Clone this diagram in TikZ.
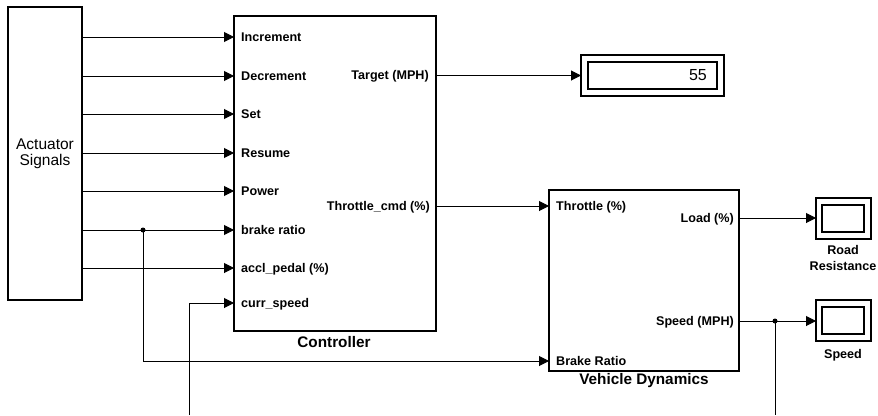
\documentclass[tikz,border=0pt]{standalone}
\usepackage{fontspec}
\setmainfont{Liberation Sans}
\usepackage{tikz}
\usetikzlibrary{arrows,arrows.meta,positioning,calc}
\tikzstyle{block}=[draw,line width=1.6pt,rectangle,inner sep=0pt,outer sep=0pt,anchor=north west]
\tikzstyle{portlabel}=[font=\fontsize{12.6}{14}\selectfont\bfseries,inner sep=0pt,text height=9pt,text depth=0pt]
\tikzstyle{blocklabel}=[font=\fontsize{15.3}{17}\selectfont\bfseries,inner sep=0pt]
\tikzstyle{signal}=[line width=1pt,-{Triangle[length=10pt,width=10pt]}]
\tikzstyle{wire}=[line width=1pt]
\tikzstyle{branch}=[fill,circle,inner sep=0pt,minimum size=5pt]

\begin{document}
\begin{tikzpicture}[x=1pt,y=-1pt]
\useasboundingbox (0,0) rectangle (878,415);

% blocks
\node [block, minimum width=74pt, minimum height=293pt] (act) at (8,7) {};
\node [font=\fontsize{15.5}{16}\selectfont, align=center] (actname) at (act.center) {Actuator\\Signals};
\node [block, minimum width=202pt, minimum height=315pt] (ctrl) at (234,16) {};
\node [blocklabel] (ctrlname) at (334,342) {Controller};
\node [block, minimum width=190pt, minimum height=181pt] (vd) at (549,190) {};
\node [blocklabel] (vdname) at (644,381) {Vehicle Dynamics};

% display
\node [block, minimum width=143pt, minimum height=41pt] (disp) at (581,55) {};
\node [block, minimum width=129pt, minimum height=27pt] (dispin) at (588,62) {};
\node [font=\fontsize{16}{18}\selectfont, inner sep=0pt, anchor=east] (dispval) at (707,75) {55};

% scopes
\node [block, minimum width=55pt, minimum height=41pt] (roadscope) at (816,198) {};
\node [block, minimum width=42pt, minimum height=27pt] (roadscopein) at (822,205) {};
\node [font=\fontsize{12.6}{16}\selectfont\bfseries, align=center] (roadname) at (843,258) {Road\\Resistance};
\node [block, minimum width=55pt, minimum height=41pt] (speedscope) at (816,300) {};
\node [block, minimum width=42pt, minimum height=27pt] (speedscopein) at (822,307) {};
\node [portlabel] (speedname) at (843,354) {Speed};

% controller ports
\foreach \y/\name [count=\i] in {37/Increment, 76/Decrement, 114/Set, 153/Resume, 191/Power, 230/brake ratio, 268/accl\_pedal (\%)}{
  \node [portlabel, anchor=west] (ctrlin\i) at (241,\y) {\name};
  \draw [signal] (act.east |- ctrlin\i) -- (ctrl.west |- ctrlin\i);
}
\node [portlabel, anchor=west] (ctrlin8) at (241,303) {curr\_speed};
\node [portlabel, anchor=east] (target) at (429,75) {Target (MPH)};
\node [portlabel, anchor=east] (thrcmd) at (430,206) {Throttle\_cmd (\%)};

% vehicle dynamics ports
\node [portlabel, anchor=west] (vdthr) at (556,206) {Throttle (\%)};
\node [portlabel, anchor=west] (vdbrake) at (556,361) {Brake Ratio};
\node [portlabel, anchor=east] (vdload) at (734,218) {Load (\%)};
\node [portlabel, anchor=east] (vdspeed) at (734,321) {Speed (MPH)};

% signals
\draw [signal] (ctrl.east |- disp) -- (disp.west);
\draw [signal] (ctrl.east |- vdthr) -- (vd.west |- vdthr);
\draw [signal] (vd.east |- vdload) -- (roadscope.west |- vdload);
\draw [signal] (vd.east |- vdspeed) -- (speedscope.west |- vdspeed);

% brake ratio branch
\node [branch] (brk) at (143,230) {};
\coordinate (brkdown) at (143,361);
\draw [signal] (brk.center) -- (brkdown) -- (vd.west |- vdbrake);

% speed feedback
\node [branch] (spd) at (775,321) {};
\coordinate (spdend) at (775,415);
\coordinate (fbend) at (189,415);
\draw [wire] (spd.center) -- (spdend);
\draw [signal] (fbend) -- (fbend |- ctrlin8) -- (ctrl.west |- ctrlin8);
\end{tikzpicture}
\end{document}
